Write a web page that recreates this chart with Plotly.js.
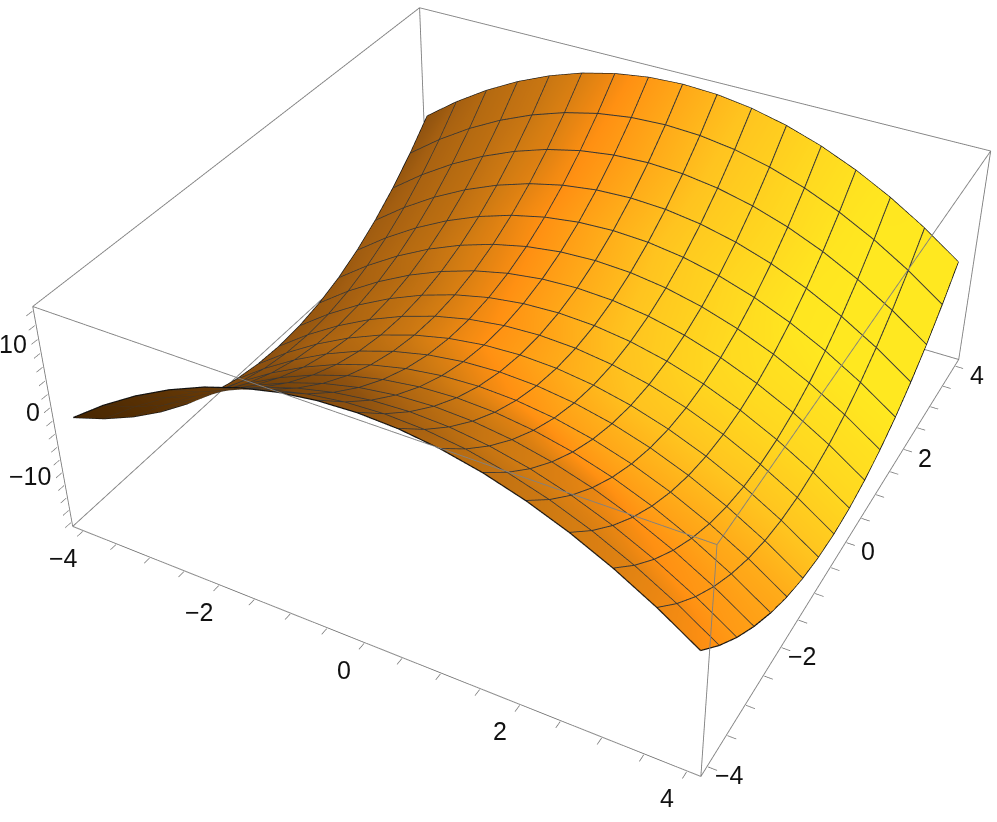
<!DOCTYPE html>
<html>
<head>
<meta charset="utf-8">
<script src="https://cdn.plot.ly/plotly-3.0.1.min.js"></script>
<style>
  html, body { margin: 0; padding: 0; background: #fff; overflow: hidden; width: 997px; height: 822px; }
  #plot { position: absolute; left: -464px; top: -492px; width: 2007px; height: 1655px; }
</style>
</head>
<body>
<div id="plot"></div>
<script>
// malha: uma linha a cada 0.5
const xs = [-4,-3.5,-3,-2.5,-2,-1.5,-1,-0.5,0,0.5,1,1.5,2,2.5,3,3.5,4];
const ys = [-4,-3.5,-3,-2.5,-2,-1.5,-1,-0.5,0,0.5,1,1.5,2,2.5,3,3.5,4];

const zs = [
  [0,3.75,7,9.75,12,13.75,15,15.75,16,15.75,15,13.75,12,9.75,7,3.75,0],
  [-3.75,0,3.25,6,8.25,10,11.25,12,12.25,12,11.25,10,8.25,6,3.25,0,-3.75],
  [-7,-3.25,0,2.75,5,6.75,8,8.75,9,8.75,8,6.75,5,2.75,0,-3.25,-7],
  [-9.75,-6,-2.75,0,2.25,4,5.25,6,6.25,6,5.25,4,2.25,0,-2.75,-6,-9.75],
  [-12,-8.25,-5,-2.25,0,1.75,3,3.75,4,3.75,3,1.75,0,-2.25,-5,-8.25,-12],
  [-13.75,-10,-6.75,-4,-1.75,0,1.25,2,2.25,2,1.25,0,-1.75,-4,-6.75,-10,-13.75],
  [-15,-11.25,-8,-5.25,-3,-1.25,0,0.75,1,0.75,0,-1.25,-3,-5.25,-8,-11.25,-15],
  [-15.75,-12,-8.75,-6,-3.75,-2,-0.75,0,0.25,0,-0.75,-2,-3.75,-6,-8.75,-12,-15.75],
  [-16,-12.25,-9,-6.25,-4,-2.25,-1,-0.25,0,-0.25,-1,-2.25,-4,-6.25,-9,-12.25,-16],
  [-15.75,-12,-8.75,-6,-3.75,-2,-0.75,0,0.25,0,-0.75,-2,-3.75,-6,-8.75,-12,-15.75],
  [-15,-11.25,-8,-5.25,-3,-1.25,0,0.75,1,0.75,0,-1.25,-3,-5.25,-8,-11.25,-15],
  [-13.75,-10,-6.75,-4,-1.75,0,1.25,2,2.25,2,1.25,0,-1.75,-4,-6.75,-10,-13.75],
  [-12,-8.25,-5,-2.25,0,1.75,3,3.75,4,3.75,3,1.75,0,-2.25,-5,-8.25,-12],
  [-9.75,-6,-2.75,0,2.25,4,5.25,6,6.25,6,5.25,4,2.25,0,-2.75,-6,-9.75],
  [-7,-3.25,0,2.75,5,6.75,8,8.75,9,8.75,8,6.75,5,2.75,0,-3.25,-7],
  [-3.75,0,3.25,6,8.25,10,11.25,12,12.25,12,11.25,10,8.25,6,3.25,0,-3.75],
  [0,3.75,7,9.75,12,13.75,15,15.75,16,15.75,15,13.75,12,9.75,7,3.75,0]
];

// tom da superficie (0 escuro, 100 amarelo), estimado a olho
const shade = [
  [3,6,9,12,15,19,24,29,33,37,40,42,44,46,48,51,54],
  [5,8,11,14,17,21,26,31,35,38,41,43,45,47,49,52,56],
  [7,10,13,16,20,24,29,34,38,41,44,46,48,50,54,57,59],
  [10,13,16,19,24,29,34,38,41,43,45,47,50,55,57,59,61],
  [13,16,19,24,29,34,38,41,44,47,50,56,59,61,62,63,63],
  [20,26,31,34,37,40,42,45,50,55,60,63,65,66,66,66,66],
  [27,31,35,38,40,42,45,50,55,60,65,68,70,71,71,71,71],
  [32,35,38,40,42,45,50,55,60,65,70,74,75,76,76,76,76],
  [33,36,38,40,43,46,51,56,61,67,73,78,81,82,82,82,82],
  [34,36,39,41,43,47,52,58,64,70,76,82,87,88,88,88,88],
  [35,37,39,41,44,48,53,59,65,71,78,84,90,92,92,92,92],
  [35,38,40,42,45,49,54,60,66,72,79,85,91,95,96,96,96],
  [36,38,40,42,45,50,55,61,67,73,80,86,92,98,100,100,100],
  [36,38,40,42,45,49,54,60,66,72,79,85,91,98,100,100,100],
  [35,38,40,42,45,48,54,59,65,71,78,84,90,97,100,100,100],
  [34,38,40,42,44,48,53,59,65,71,77,83,90,96,100,100,100],
  [33,37,40,42,44,47,52,58,64,70,76,82,89,95,99,100,100]
];

const xyTicks = [-4,-3.5,-3,-2.5,-2,-1.5,-1,-0.5,0,0.5,1,1.5,2,2.5,3,3.5,4];
const zTicks = [-16,-14,-12,-10,-8,-6,-4,-2,0,2,4,6,8,10,12,14,16];
const xyLabelVals = [-4,-2,0,2,4];
const xyLabelText = ["\u22124","\u22122","0","2","4"];
const zLabelVals = [-10,0,10];
const zLabelText = ["\u221210","0","10"];
const boxX = [-4.16, 4.16];
const boxY = [-4.16, 4.16];
const boxZ = [-16.64, 16.64];

const shadeScale = [
  [0, "#3f2100"],
  [0.15, "#683a06"],
  [0.33, "#8f5210"],
  [0.45, "#cf7a12"],
  [0.55, "#ff9012"],
  [0.75, "#ffc31f"],
  [1, "#ffe820"]
];

const surface = {
  type: "surface",
  x: xs,
  y: ys,
  z: zs,
  surfacecolor: shade,
  cmin: 0,
  cmax: 100,
  colorscale: shadeScale,
  showscale: false,
  hoverinfo: "skip",
  lighting: { ambient: 1, diffuse: 0, specular: 0, roughness: 1, fresnel: 0 }
};

function linha(px, py, pz, color, width) {
  return {
    type: "scatter3d",
    mode: "lines",
    x: px,
    y: py,
    z: pz,
    line: { color: color, width: width },
    connectgaps: false,
    hoverinfo: "skip",
    showlegend: false
  };
}

// linhas internas da malha, um traco so com quebras
const meshX = [], meshY = [], meshZ = [];
const last = xs.length - 1;
for (let k = 1; k < last; k++) {
  xs.forEach((xv, i) => {
    meshX.push(xv); meshY.push(ys[k]); meshZ.push(zs[k][i] + 0.04);
  });
  meshX.push(null); meshY.push(null); meshZ.push(null);
  ys.forEach((yv, j) => {
    meshX.push(xs[k]); meshY.push(yv); meshZ.push(zs[j][k] + 0.04);
  });
  meshX.push(null); meshY.push(null); meshZ.push(null);
}

const [x0, x1] = boxX;
const [y0, y1] = boxY;
const [z0, z1] = boxZ;
const boxColor = "#808080";

const traces = [
  surface,
  linha(meshX, meshY, meshZ, "#363636", 2),
  // contorno da superficie
  linha(xs, xs.map(() => ys[0]), zs[0], "#111111", 2.4),
  linha(xs, xs.map(() => ys[last]), zs[last], "#111111", 2.4),
  linha(ys.map(() => xs[0]), ys, zs.map((r) => r[0]), "#111111", 2.4),
  linha(ys.map(() => xs[last]), ys, zs.map((r) => r[last]), "#111111", 2.4),
  // arestas da caixa
  linha([x0, x1, x1, x0, x0], [y0, y0, y1, y1, y0], [z0, z0, z0, z0, z0], boxColor, 1.8),
  linha([x0, x1, x1, x0, x0], [y0, y0, y1, y1, y0], [z1, z1, z1, z1, z1], boxColor, 1.8),
  linha([x0, x0], [y0, y0], [z0, z1], boxColor, 1.8),
  linha([x1, x1], [y0, y0], [z0, z1], boxColor, 1.8),
  linha([x1, x1], [y1, y1], [z0, z1], boxColor, 1.8),
  linha([x0, x0], [y1, y1], [z0, z1], boxColor, 1.8)
];

const axisBase = {
  title: { text: "" },
  showgrid: false,
  zeroline: false,
  showbackground: false,
  showspikes: false,
  showline: false,
  mirror: false,
  ticks: "inside",
  ticklen: 7,
  tickwidth: 1.5,
  tickcolor: "#707070",
  tickmode: "array",
  showticklabels: false
};

// rotulos como anotacoes para acertar a posicao
const labelFont = { family: "Liberation Sans", size: 25, color: "#111111" };
function rotulo(px, py, pz, text, dx, dy, anchor) {
  return {
    x: px, y: py, z: pz, text: text,
    showarrow: false,
    xanchor: anchor, yanchor: "middle",
    xshift: dx, yshift: dy,
    font: labelFont
  };
}
const labels = [
  ...xyLabelVals.map((v, i) => rotulo(v, y0, z0, xyLabelText[i], -20, -27, "center")),
  ...xyLabelVals.map((v, i) => rotulo(x1, v, z0, xyLabelText[i], 22, -9, "center")),
  ...zLabelVals.map((v, i) => rotulo(x0, y0, v, zLabelText[i], -12, 9, "right"))
];

const layout = {
  width: 2007,
  height: 1655,
  margin: { l: 0, r: 0, t: 0, b: 0 },
  paper_bgcolor: "#ffffff",
  showlegend: false,
  scene: {
    domain: { x: [0, 1], y: [0, 1] },
    aspectmode: "manual",
    aspectratio: { x: 1, y: 1, z: 0.39 },
    camera: {
      projection: { type: "perspective" },
      center: { x: 0, y: 0, z: 0 },
      eye: { x: 1.13, y: -2.098, z: 1.725 },
      up: { x: 0, y: 0, z: 1 }
    },
    annotations: labels,
    xaxis: Object.assign({}, axisBase, { range: [x0 - 0.01, x1 + 0.01], tickvals: xyTicks }),
    yaxis: Object.assign({}, axisBase, { range: [y0 - 0.01, y1 + 0.01], tickvals: xyTicks }),
    zaxis: Object.assign({}, axisBase, { range: [z0 - 0.05, z1 + 0.05], tickvals: zTicks })
  }
};

Plotly.newPlot("plot", traces, layout, { displayModeBar: false });
</script>
</body>
</html>
